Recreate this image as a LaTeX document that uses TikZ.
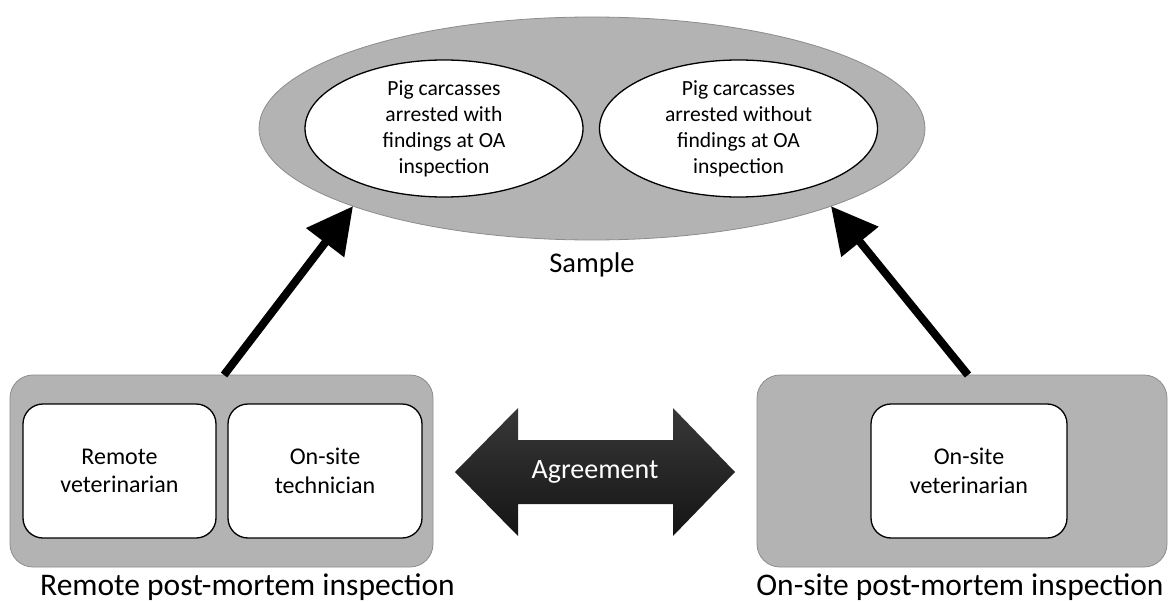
\documentclass[tikz,border=0pt]{standalone}
\usepackage{fontspec}
\setmainfont{Carlito}
\usetikzlibrary{shapes.geometric,arrows.meta,calc}
\definecolor{panelgray}{RGB}{179,179,179}
\definecolor{edgegray}{RGB}{140,140,140}
\tikzset{
  outerell/.style={ellipse,fill=panelgray,draw=edgegray,line width=0.8pt,inner sep=0pt,outer sep=0pt},
  innerell/.style={ellipse,fill=white,draw=black,line width=1.3pt,inner sep=0pt,outer sep=0pt,
     minimum width=278pt,minimum height=137pt,align=center,font=\fontsize{21.6}{26}\selectfont},
  panel/.style={rectangle,rounded corners=23pt,fill=panelgray,draw=edgegray,line width=0.8pt,inner sep=0pt,outer sep=0pt},
  card/.style={rectangle,rounded corners=20pt,fill=white,draw=black,line width=1.3pt,inner sep=0pt,outer sep=0pt,
     align=center,font=\fontsize{24}{28.5}\selectfont},
  caption/.style={font=\fontsize{31.5}{36}\selectfont,inner sep=0pt},
  bigarrow/.style={line width=8pt,-{Triangle[length=46pt,width=46pt]}},
}
\begin{document}
\begin{tikzpicture}[x=1pt,y=-1pt]
\useasboundingbox (0,0) rectangle (1168,602);
% sample
\node[outerell,minimum width=666pt,minimum height=223pt] (sample) at (592,128.5) {};
\node[innerell] (with) at (444,128.5) {Pig carcasses\\arrested with\\findings at OA\\inspection};
\node[innerell] (without) at (738.5,128.5) {Pig carcasses\\arrested without\\findings at OA\\inspection};
\node[font=\fontsize{28.5}{32}\selectfont,inner sep=0pt] (samplelbl) at (592,265) {Sample};
% remote panel
\node[panel,minimum width=423pt,minimum height=192pt] (remote) at (221.5,471) {};
\node[card,minimum width=193pt,minimum height=134pt] (rvet) at (119.5,471) {Remote\\veterinarian};
\node[card,minimum width=194pt,minimum height=134pt] (tech) at (325,471) {On-site\\technician};
\node[caption] (remotelbl) at (247.5,587) {Remote post-mortem inspection};
% on-site panel
\node[panel,minimum width=410pt,minimum height=192pt] (onsite) at (962,471) {};
\node[card,minimum width=196pt,minimum height=134pt] (ovet) at (969,471) {On-site\\veterinarian};
\node[caption] (onsitelbl) at (960,587) {On-site post-mortem inspection};
% agreement double arrow
\node[inner sep=0pt,font=\fontsize{28}{32}\selectfont] (agree) at (595,472) {\phantom{Agreement}};
\shade[top color=black!78,middle color=black,bottom color=black!92]
  (455,472) -- (518,408) -- (518,440) -- (673,440) -- (673,408) -- (735,472)
  -- (673,536) -- (673,504) -- (518,504) -- (518,536) -- cycle;
\node[inner sep=0pt,font=\fontsize{28}{32}\selectfont,text=white] at (agree) {Agreement};
% arrows
\draw[bigarrow] ([xshift=2.5pt]remote.north) -- (sample.198.7);
\draw[bigarrow] ([xshift=6pt]onsite.north) -- (sample.-18.6);
\end{tikzpicture}
\end{document}
